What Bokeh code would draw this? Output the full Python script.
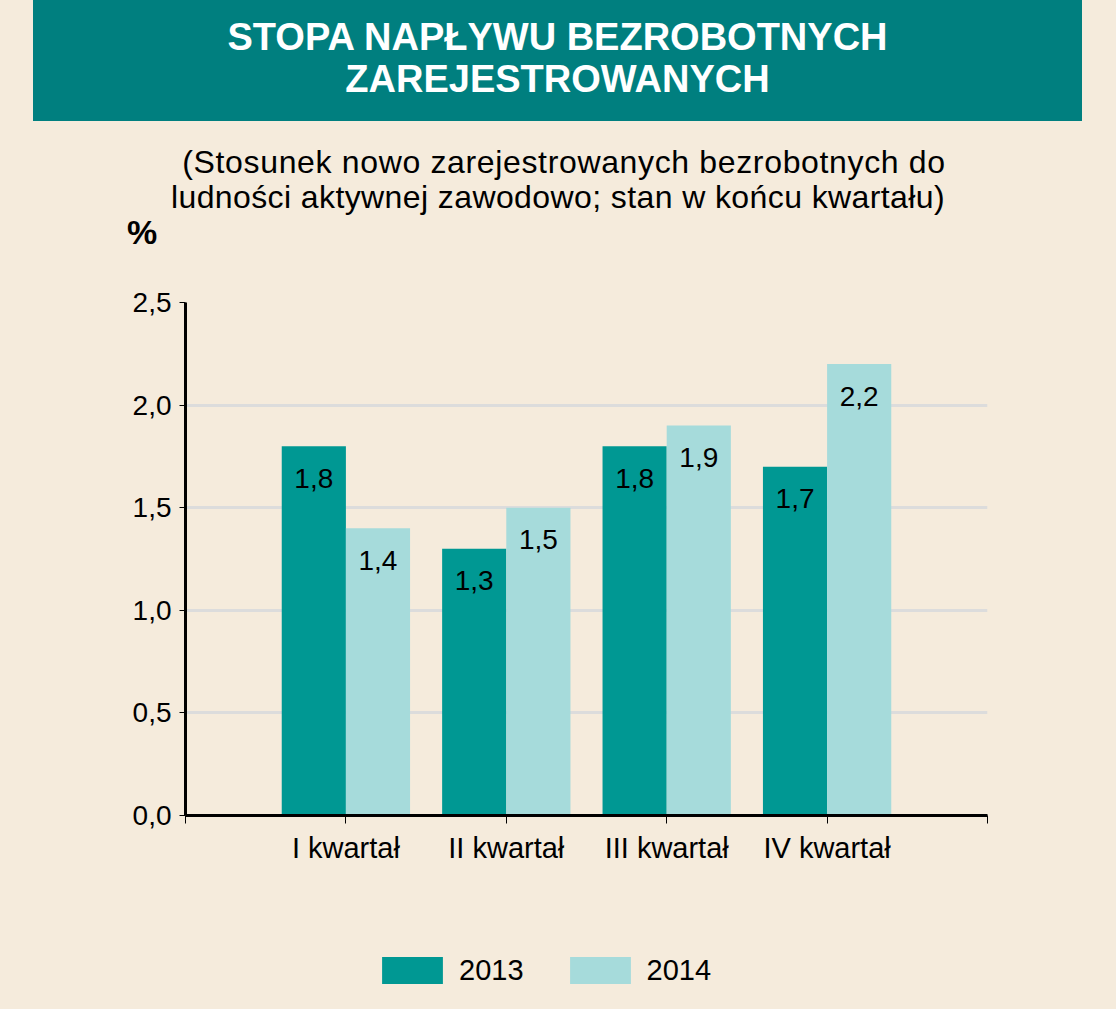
from bokeh.plotting import figure
from bokeh.models import (FixedTicker, ColumnDataSource, Legend, LegendItem, Range1d, Div)
from bokeh.layouts import column
from bokeh.transform import dodge
from bokeh.core.properties import value
from bokeh.embed import file_html
from bokeh.resources import INLINE

# ---- data ----
categories = ["I kwartał", "II kwartał", "III kwartał", "IV kwartał"]
series_names = ["2013", "2014"]
values_2013 = [1.8, 1.3, 1.8, 1.7]
values_2014 = [1.4, 1.5, 1.9, 2.2]
y_ticks = [0.0, 0.5, 1.0, 1.5, 2.0, 2.5]
y_tick_labels = ["0,0", "0,5", "1,0", "1,5", "2,0", "2,5"]
title_lines = ["STOPA NAPŁYWU BEZROBOTNYCH", "ZAREJESTROWANYCH"]
subtitle_lines = ["(Stosunek nowo zarejestrowanych bezrobotnych do",
                  "ludności aktywnej zawodowo; stan w końcu kwartału)"]
unit_label = "%"

BG = "#F5EBDC"
C2013 = "#009893"
C2014 = "#A6DBDB"
BANNER = "#007F7F"
FONT = "Liberation Sans"

TOTAL_W, TOTAL_H = 1116, 1009
HEAD_H = 260
CHART_H = 640
LEG_H = TOTAL_H - HEAD_H - CHART_H

# ---- header (banner, subtitle, unit) ----
head_html = f"""
<div style="position:relative;width:{TOTAL_W}px;height:{HEAD_H}px;overflow:hidden;
            background:{BG};font-family:'{FONT}';">
  <div style="position:absolute;left:33px;top:0px;width:1049px;height:121px;
              background:{BANNER};"></div>
  <div style="position:absolute;left:33px;top:16px;width:1049px;text-align:center;
              color:white;font-weight:bold;font-size:38px;line-height:42px;white-space:nowrap;">
    {title_lines[0]}<br>{title_lines[1]}</div>
  <div style="position:absolute;left:64px;top:146px;width:1000px;text-align:center;
              color:black;font-size:32px;line-height:33px;letter-spacing:0.65px;white-space:nowrap;">
    {subtitle_lines[0]}</div>
  <div style="position:absolute;left:58px;top:181px;width:1000px;text-align:center;
              color:black;font-size:32px;line-height:33px;letter-spacing:0.4px;white-space:nowrap;">
    {subtitle_lines[1]}</div>
  <div style="position:absolute;left:127px;top:215px;color:black;font-weight:bold;
              font-size:34px;line-height:34px;">{unit_label}</div>
</div>
"""
head = Div(text=head_html, width=TOTAL_W, height=HEAD_H, margin=0)

# ---- chart ----
pos = list(range(1, len(categories) + 1))
src = ColumnDataSource(dict(
    x=pos,
    v13=values_2013,
    v14=values_2014,
    t13=[f"{v:.1f}".replace(".", ",") for v in values_2013],
    t14=[f"{v:.1f}".replace(".", ",") for v in values_2014],
))

frame_top = 302 - HEAD_H
frame_bottom = 815 - HEAD_H
x_lo, x_hi = 0, len(categories) + 1
p = figure(width=TOTAL_W, height=CHART_H, output_backend="svg", toolbar_location=None,
           x_range=Range1d(x_lo, x_hi), y_range=Range1d(0, 2.5),
           min_border_left=185, min_border_right=TOTAL_W - 987,
           min_border_top=frame_top, min_border_bottom=CHART_H - frame_bottom,
           margin=0)
p.background_fill_color = BG
p.border_fill_color = BG
p.outline_line_color = None

bar13 = dict(x=dodge("x", -0.2, range=p.x_range), top="v13", width=0.4, source=src,
             fill_color=C2013, line_color=None)
bar14 = dict(x=dodge("x", 0.2, range=p.x_range), top="v14", width=0.4, source=src,
             fill_color=C2014, line_color=None)
r13 = p.vbar(**bar13)
r14 = p.vbar(**bar14)

lab_kw = dict(text_font=value(FONT), text_font_size="28px", text_color="black",
              text_align="center", text_baseline="alphabetic", y_offset=32)
p.text(x=dodge("x", -0.2, range=p.x_range), y="v13", text="t13", source=src, **lab_kw)
p.text(x=dodge("x", 0.2, range=p.x_range), y="v14", text="t14", source=src, **lab_kw)

xa = p.xaxis[0]
xa.ticker = FixedTicker(ticks=list(range(x_lo, x_hi + 1)))
xa.major_label_overrides = {x_lo: "", x_hi: "",
                            **{i + 1: c for i, c in enumerate(categories)}}
xa.axis_line_width = 3
xa.axis_line_color = "black"
xa.major_tick_line_color = "black"
xa.major_tick_line_width = 1
xa.major_tick_out = 8
xa.major_tick_in = 0
xa.minor_tick_line_color = None
xa.major_label_text_font = FONT
xa.major_label_text_font_size = "29px"
xa.major_label_text_color = "black"
xa.major_label_standoff = 8

ya = p.yaxis[0]
ya.ticker = FixedTicker(ticks=y_ticks)
ya.major_label_overrides = {t: l for t, l in zip(y_ticks, y_tick_labels)}
ya.axis_line_width = 3
ya.axis_line_color = "black"
ya.major_tick_line_color = "black"
ya.major_tick_line_width = 1
ya.major_tick_out = 6
ya.major_tick_in = 0
ya.minor_tick_line_color = None
ya.major_label_text_font = FONT
ya.major_label_text_font_size = "28px"
ya.major_label_text_color = "black"
ya.major_label_standoff = 8

p.xgrid.grid_line_color = None
p.ygrid.grid_line_color = "#DCDCDC"
p.ygrid.grid_line_width = 3

# ---- legend strip (its own small figure; its frame is aligned with the chart's) ----
lf = figure(width=TOTAL_W, height=LEG_H, output_backend="svg", toolbar_location=None,
            x_range=Range1d(x_lo, x_hi), y_range=Range1d(10, 11),
            x_axis_location=None, y_axis_location=None,
            min_border_left=185, min_border_right=TOTAL_W - 987,
            min_border_top=0, min_border_bottom=0, margin=0)
lf.background_fill_color = BG
lf.border_fill_color = BG
lf.outline_line_color = None
lf.grid.visible = False
# same series, drawn below this strip's visible y-range: only their legend swatches show
lr13 = lf.vbar(**{**bar13, "x": dodge("x", -0.2, range=lf.x_range)})
lr14 = lf.vbar(**{**bar14, "x": dodge("x", 0.2, range=lf.x_range)})

legend = Legend(items=[LegendItem(label=series_names[0], renderers=[lr13], index=0),
                       LegendItem(label=series_names[1], renderers=[lr14], index=0)],
                location=(189, 22), orientation="horizontal",
                glyph_width=76, glyph_height=34, label_standoff=9, spacing=38,
                padding=0, margin=0, border_line_color=None,
                background_fill_alpha=0,
                label_text_font=FONT, label_text_font_size="29px",
                label_text_color="black")
lf.add_layout(legend, "center")

layout = column(head, p, lf, spacing=0, margin=0)

tmpl = """{% block preamble %}<style>html, body { background: #F5EBDC; margin: 0; overflow: hidden; }</style>{% endblock %}"""
open("out.html", "w").write(file_html(layout, INLINE, template=tmpl))
